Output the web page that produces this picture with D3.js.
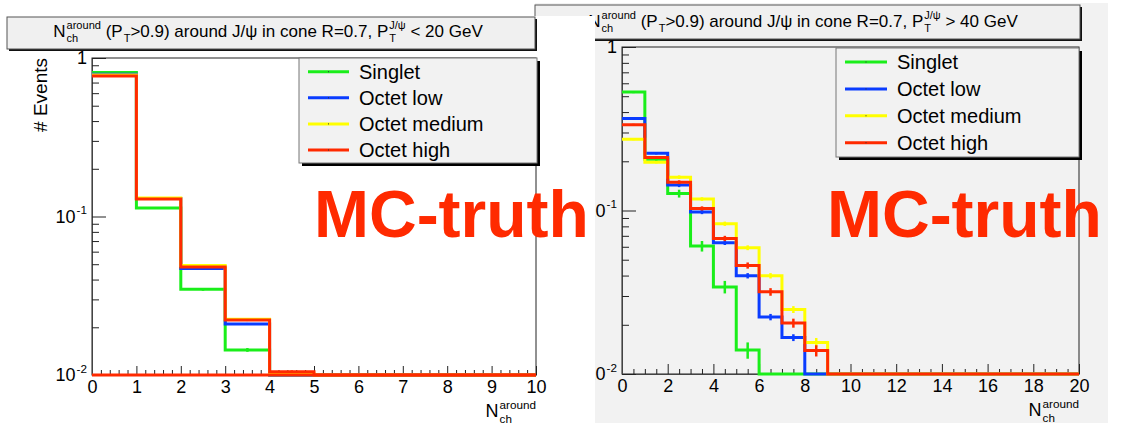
<!DOCTYPE html>
<html><head><meta charset="utf-8">
<script src="https://cdn.jsdelivr.net/npm/d3@7"></script>
<style>
body{margin:0;background:#fff;}
svg text{font-family:"Liberation Sans",Arial,Helvetica,sans-serif;white-space:pre;}
</style>
</head><body>
<svg id="c" width="1128" height="433"></svg>
<script>
// ---------------- data ----------------
const seriesNames = ["Singlet", "Octet low", "Octet medium", "Octet high"];
const seriesColors = ["#1aee1a", "#0a3cff", "#ffff00", "#ff2a00"];

// left panel: P_T(J/psi) < 20 GeV, bins of width 1 from 0 to 10
const leftEdges = [0,1,2,3,4,5,6,7,8,9,10];
const leftSinglet    = [0.81, 0.113, 0.0347, 0.0144, 0.0095, 0, 0, 0, 0, 0];
const leftOctetLow   = [0.79, 0.130, 0.0470, 0.0210, 0.0099, 0, 0, 0, 0, 0];
const leftOctetMed   = [0.78, 0.131, 0.0490, 0.0225, 0.0102, 0, 0, 0, 0, 0];
const leftOctetHigh  = [0.77, 0.129, 0.0480, 0.0222, 0.0105, 0, 0, 0, 0, 0];
const leftErrSinglet   = [0.004, 0.0015, 0.0007, 0.0004, 0, 0, 0, 0, 0, 0];
const leftErrOctetLow  = [0.003, 0.0010, 0.0005, 0.0003, 0.0001, 0, 0, 0, 0, 0];
const leftErrOctetMed  = [0.003, 0.0010, 0.0005, 0.0003, 0.0001, 0, 0, 0, 0, 0];
const leftErrOctetHigh = [0.003, 0.0010, 0.0005, 0.0003, 0.0002, 0, 0, 0, 0, 0];

// right panel: P_T(J/psi) > 40 GeV, bins of width 1 from 0 to 20
const rightEdges = [0,1,2,3,4,5,6,7,8,9,10,11,12,13,14,15,16,17,18,19,20];
const rightSinglet   = [0.53, 0.206, 0.127, 0.0606, 0.0341, 0.0140, 0, 0, 0, 0, 0,0,0,0,0,0,0,0,0,0];
const rightOctetLow  = [0.365, 0.224, 0.143, 0.098, 0.0635, 0.0399, 0.0223, 0.0167, 0, 0, 0,0,0,0,0,0,0,0,0,0];
const rightOctetMed  = [0.273, 0.197, 0.160, 0.1175, 0.083, 0.0592, 0.0399, 0.0248, 0.0156, 0, 0,0,0,0,0,0,0,0,0,0];
const rightOctetHigh = [0.334, 0.211, 0.149, 0.103, 0.0675, 0.0461, 0.0318, 0.0205, 0.0139, 0, 0,0,0,0,0,0,0,0,0,0];
const rightErrSinglet   = [0.008, 0.006, 0.007, 0.0045, 0.003, 0.0016, 0,0,0,0,0,0,0,0,0,0,0,0,0,0];
const rightErrOctetLow  = [0.005, 0.004, 0.004, 0.003, 0.002, 0.0015, 0.001, 0.0008, 0,0,0,0,0,0,0,0,0,0,0,0];
const rightErrOctetMed  = [0.004, 0.003, 0.004, 0.003, 0.0025, 0.002, 0.0015, 0.0012, 0.001, 0,0,0,0,0,0,0,0,0,0,0];
const rightErrOctetHigh = [0.005, 0.004, 0.004, 0.003, 0.0025, 0.002, 0.0017, 0.0013, 0.0011, 0,0,0,0,0,0,0,0,0,0,0];

// axis ticks
const yMajorTicks = [0.01, 0.1, 1];
const yMinorTicks = [0.02,0.03,0.04,0.05,0.06,0.07,0.08,0.09,0.2,0.3,0.4,0.5,0.6,0.7,0.8,0.9];
const yTickLabels = [[{t:"10"},{sup:"-2"}], [{t:"10"},{sup:"-1"}], [{t:"1"}]];
const leftXMajor = [0,1,2,3,4,5,6,7,8,9,10];
const leftXMinor = [0.2,0.4,0.6,0.8,1.2,1.4,1.6,1.8,2.2,2.4,2.6,2.8,3.2,3.4,3.6,3.8,4.2,4.4,4.6,4.8,5.2,5.4,5.6,5.8,6.2,6.4,6.6,6.8,7.2,7.4,7.6,7.8,8.2,8.4,8.6,8.8,9.2,9.4,9.6,9.8];
const rightXMajor = [0,2,4,6,8,10,12,14,16,18,20];
const rightXMinor = [0.5,1,1.5,2.5,3,3.5,4.5,5,5.5,6.5,7,7.5,8.5,9,9.5,10.5,11,11.5,12.5,13,13.5,14.5,15,15.5,16.5,17,17.5,18.5,19,19.5];

const leftTitle  = [{t:"N"},{sub:"ch",sup:"around"},{t:" (P"},{sub:"T"},{t:">0.9) around J/\u03c8 in cone R=0.7, P"},{sub:"T",sup:"J/\u03c8"},{t:" < 20 GeV"}];
const rightTitle = [{t:"N"},{sub:"ch",sup:"around"},{t:" (P"},{sub:"T"},{t:">0.9) around J/\u03c8 in cone R=0.7, P"},{sub:"T",sup:"J/\u03c8"},{t:" > 40 GeV"}];
const xAxisTitle = [{t:"N"},{sub:"ch",sup:"around"}];
const yAxisTitle = "# Events";
const stamp = "MC-truth";

// ---------------- drawing ----------------
const svg = d3.select("#c");
const yMin = 0.01, yMax = 1;

function richText(g, x, y, parts, size, anchor, fill) {
  const grp = g.append("g");
  let cur = 0;
  const small = size * 0.65;
  parts.forEach(p => {
    if (p.t !== undefined) {
      const t = grp.append("text").attr("x", cur).attr("y", 0)
        .attr("font-size", size).attr("fill", fill || "#000")
        .text(p.t.replace(/ /g, "\u00a0"));
      cur += t.node().getComputedTextLength();
    } else {
      let w = 0;
      if (p.sup) {
        const t = grp.append("text").attr("x", cur + 1).attr("y", -size * 0.45)
          .attr("font-size", small).attr("fill", fill || "#000").text(p.sup);
        w = Math.max(w, t.node().getComputedTextLength() + 1);
      }
      if (p.sub) {
        const t = grp.append("text").attr("x", cur + 1).attr("y", size * 0.32)
          .attr("font-size", small).attr("fill", fill || "#000").text(p.sub);
        w = Math.max(w, t.node().getComputedTextLength() + 1);
      }
      cur += w;
    }
  });
  const dx = anchor === "middle" ? -cur / 2 : anchor === "end" ? -cur : 0;
  grp.attr("transform", `translate(${x + dx},${y})`);
  return grp;
}

function titleBox(g, x0, y0, x1, y1, parts, cx, baseline) {
  g.append("rect").attr("x", x0 + 2).attr("y", y0 + 2).attr("width", x1 - x0).attr("height", y1 - y0).attr("fill", "#111");
  g.append("rect").attr("x", x0).attr("y", y0).attr("width", x1 - x0).attr("height", y1 - y0)
    .attr("fill", "#f0f0f0").attr("stroke", "#555").attr("stroke-width", 1);
  richText(g, cx, baseline, parts, 17, "middle");
}

function legend(g, x0, y0, x1, y1, firstY, step, lineX0, lineX1, textX, fill) {
  g.append("rect").attr("x", x0 + 3).attr("y", y0 + 3).attr("width", x1 - x0).attr("height", y1 - y0).attr("fill", "#000");
  g.append("rect").attr("x", x0).attr("y", y0).attr("width", x1 - x0).attr("height", y1 - y0)
    .attr("fill", fill).attr("stroke", "#777").attr("stroke-width", 1);
  seriesNames.forEach((n, i) => {
    const yy = firstY + i * step;
    g.append("line").attr("x1", lineX0).attr("x2", lineX1).attr("y1", yy).attr("y2", yy)
      .attr("stroke", seriesColors[i]).attr("stroke-width", 3);
    g.append("rect").attr("x", (lineX0 + lineX1) / 2 - 0.5).attr("y", yy - 0.5).attr("width", 1).attr("height", 1).attr("fill", "#333");
    g.append("text").attr("x", textX).attr("y", yy + 7).attr("font-size", 20).attr("fill", "#000").text(n);
  });
}

function panel(cfg) {
  const g = svg.append("g");
  const x = d3.scaleLinear().domain([cfg.edges[0], cfg.edges[cfg.edges.length - 1]]).range([cfg.left, cfg.right]);
  const y = d3.scaleLog().domain([yMin, yMax]).range([cfg.bottom, cfg.top]);

  // frame
  g.append("rect").attr("x", cfg.left).attr("y", cfg.top).attr("width", cfg.right - cfg.left)
    .attr("height", cfg.bottom - cfg.top).attr("fill", cfg.frameFill).attr("stroke", "#222").attr("stroke-width", 1);

  // axes
  const axStyle = sel => { sel.selectAll("line").attr("stroke", "#222"); sel.select(".domain").attr("stroke", "#444"); };
  const xMaj = g.append("g").attr("transform", `translate(0,${cfg.bottom})`)
    .call(d3.axisBottom(x).tickValues(cfg.xMajor).tickSize(-cfg.xMajorLen).tickSizeOuter(0).tickPadding(5).tickFormat(d3.format("d")));
  xMaj.call(axStyle);
  xMaj.selectAll("text").attr("font-size", 18).attr("fill", "#000").attr("font-family", null);
  g.append("g").attr("transform", `translate(0,${cfg.bottom})`)
    .call(d3.axisBottom(x).tickValues(cfg.xMinor).tickSize(-5).tickSizeOuter(0).tickFormat(""))
    .call(s => s.select(".domain").remove()).call(axStyle);
  g.append("g").attr("transform", `translate(${cfg.left},0)`)
    .call(d3.axisLeft(y).tickValues(yMajorTicks).tickSize(-14).tickSizeOuter(0).tickFormat(""))
    .call(axStyle);
  g.append("g").attr("transform", `translate(${cfg.left},0)`)
    .call(d3.axisLeft(y).tickValues(yMinorTicks).tickSize(-7).tickSizeOuter(0).tickFormat(""))
    .call(s => s.select(".domain").remove()).call(axStyle);
  g.selectAll(".tick text").attr("font-family", null);
  g.selectAll("g[font-family]").attr("font-family", null).attr("font-size", null);
  yMajorTicks.forEach((v, i) => richText(g, cfg.left - 5, y(v) + 6, yTickLabels[i], 18, "end"));

  // axis titles
  richText(g, cfg.right, cfg.bottom + 42, xAxisTitle, 18, "end");
  if (cfg.yTitle) {
    g.append("text").attr("transform", `translate(${cfg.left - 45},${cfg.top}) rotate(-90)`)
      .attr("text-anchor", "end").attr("font-size", 19).attr("fill", "#000").text(cfg.yTitle);
  }

  // histograms
  const line = d3.line();
  cfg.series.forEach((vals, si) => {
    const pts = [];
    vals.forEach((v, i) => {
      const yy = y(Math.max(v, yMin));
      pts.push([x(cfg.edges[i]), yy], [x(cfg.edges[i + 1]), yy]);
    });
    if (cfg.baselineSeries === si) {
      g.append("line").attr("x1", x(cfg.edges[0])).attr("x2", x(cfg.edges[cfg.edges.length - 1]))
        .attr("y1", y(yMin)).attr("y2", y(yMin)).attr("stroke", seriesColors[si]).attr("stroke-width", 3);
    }
    g.append("path").attr("d", line(pts)).attr("fill", "none").attr("stroke", seriesColors[si])
      .attr("stroke-width", 3).attr("stroke-linejoin", "miter");
    cfg.errors[si].forEach((e, i) => {
      const v = vals[i];
      if (v <= yMin || e <= 0) return;
      const cx = x((cfg.edges[i] + cfg.edges[i + 1]) / 2);
      g.append("line").attr("x1", cx).attr("x2", cx)
        .attr("y1", y(Math.max(v - e, yMin))).attr("y2", y(Math.min(v + e, yMax)))
        .attr("stroke", seriesColors[si]).attr("stroke-width", 2.5);
    });
  });
  return g;
}

// ----- right canvas (behind) -----
const right = svg.append("g");
right.append("rect").attr("x", 535).attr("y", 3).attr("width", 573).attr("height", 420).attr("fill", "#f2f2f2");
titleBox(right, 535, 5, 1080, 39, rightTitle, 803, 27);
panel({
  edges: rightEdges, left: 622, right: 1079, top: 47, bottom: 374, frameFill: "#f2f2f2",
  xMajor: rightXMajor, xMinor: rightXMinor, xMajorLen: 10,
  series: [rightSinglet, rightOctetLow, rightOctetMed, rightOctetHigh],
  errors: [rightErrSinglet, rightErrOctetLow, rightErrOctetMed, rightErrOctetHigh],
  yTitle: null, baselineSeries: -1
});
legend(svg, 836, 48, 1079, 157, 62, 26.9, 845, 887, 897, "#f2f2f2");
svg.append("text").attr("x", 827).attr("y", 237).attr("font-size", 66).attr("font-weight", "bold")
  .attr("fill", "#ff2a00").text(stamp);

// ----- left canvas (on top) -----
svg.append("rect").attr("x", 0).attr("y", 16).attr("width", 595).attr("height", 417).attr("fill", "#fff");
const leftG = svg.append("g");
titleBox(leftG, 7, 17, 535, 49, leftTitle, 268, 37);
panel({
  edges: leftEdges, left: 92, right: 536, top: 58, bottom: 375, frameFill: "#fff",
  xMajor: leftXMajor, xMinor: leftXMinor, xMajorLen: 9,
  series: [leftSinglet, leftOctetLow, leftOctetMed, leftOctetHigh],
  errors: [leftErrSinglet, leftErrOctetLow, leftErrOctetMed, leftErrOctetHigh],
  yTitle: yAxisTitle, baselineSeries: 3
});
legend(svg, 299, 58, 537, 163, 71.7, 26.1, 308, 349, 359, "#f2f2f2");
svg.append("text").attr("x", 314).attr("y", 237).attr("font-size", 66).attr("font-weight", "bold")
  .attr("fill", "#ff2a00").text(stamp);
</script>
</body></html>
